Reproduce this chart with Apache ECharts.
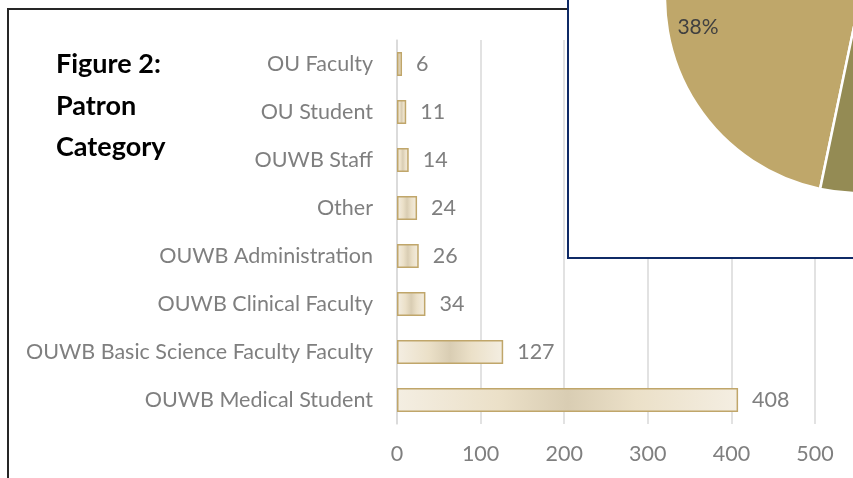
<!DOCTYPE html>
<html>
<head>
<meta charset="utf-8">
<script src="https://cdn.jsdelivr.net/npm/echarts@6/dist/echarts.min.js"></script>
<style>
    html, body { margin: 0; padding: 0; background: #fff; }
    #main { width: 853px; height: 478px; }
</style>
</head>
<body>
<div id="main"></div>
<script>
// bar chart data (top to bottom)
var categories = ['OU Faculty', 'OU Student', 'OUWB Staff', 'Other', 'OUWB Administration',
    'OUWB Clinical Faculty', 'OUWB Basic Science Faculty Faculty', 'OUWB Medical Student'];
var counts = [6, 11, 14, 24, 26, 34, 127, 408];
var xTicks = [0, 100, 200, 300, 400, 500];

// partly hidden pie in the corner (only the 38% slice is readable)
var pieValues = [38, 22, 16, 24];
var pieColors = ['#BFA76A', '#D9C89A', '#7E7650', '#948B54'];

var font = 'Lato, "Open Sans", sans-serif';
var grey = '#7f7f7f';

var barFill = {
    type: 'linear', x: 0, y: 0, x2: 1, y2: 0,
    colorStops: [
        { offset: 0, color: '#f4eee2' },
        { offset: 0.3, color: '#ebe0c8' },
        { offset: 0.5, color: '#d9cdb3' },
        { offset: 0.7, color: '#ebe0c8' },
        { offset: 1, color: '#f4eee2' }
    ]
};

var chart = echarts.init(document.getElementById('main'));
chart.setOption({
    animation: false,
    title: {
        text: 'Figure 2:\nPatron\nCategory',
        left: 56, top: 44, padding: 0,
        textStyle: { fontFamily: font, fontSize: 27, fontWeight: 'bold', color: '#000', lineHeight: 41.5 }
    },
    graphic: [
        { type: 'rect', z: -1, shape: { x: 8, y: 9, width: 900, height: 520 },
          style: { fill: 'none', stroke: '#262626', lineWidth: 2 } },
        { type: 'rect', z: 10, shape: { x: 568, y: -10, width: 400, height: 268 },
          style: { fill: '#fff', stroke: '#0f2a66', lineWidth: 2 } }
    ],
    grid: { left: 397, right: 38, top: 40, bottom: 54 },
    xAxis: {
        type: 'value', min: xTicks[0], max: xTicks[xTicks.length - 1], interval: 100,
        axisLine: { show: false },
        axisTick: { show: false },
        splitLine: { lineStyle: { color: '#d9d9d9', width: 1.5 } },
        axisLabel: { color: grey, fontSize: 21.5, fontFamily: font, margin: 19 }
    },
    yAxis: {
        type: 'category', data: categories, inverse: true,
        axisLine: { show: true, lineStyle: { color: '#d9d9d9', width: 1.5 } },
        axisTick: { show: false },
        axisLabel: { color: grey, fontSize: 21.5, fontFamily: font, margin: 24 }
    },
    series: [
        {
            type: 'bar', data: counts, barWidth: 24, z: 3,
            itemStyle: { color: barFill, borderColor: '#c0a66a', borderWidth: 1.5 },
            label: { show: true, position: 'right', distance: 14, color: grey, fontSize: 21.5, fontFamily: font }
        },
        {
            type: 'pie', z: 20, center: [860, -2], radius: 195,
            startAngle: 258.2, clockwise: true,
            data: pieValues.map(function (v, i) {
                return { value: v, itemStyle: { color: pieColors[i] } };
            }),
            itemStyle: { borderColor: '#fff', borderWidth: 2.5 },
            label: { show: false }, labelLine: { show: false },
            emphasis: { disabled: true }
        },
        {
            // transparent ring only used to place the slice labels near the edge
            type: 'pie', z: 21, center: [860, -2], radius: [140, 195],
            startAngle: 258.2, clockwise: true, silent: true,
            data: pieValues.map(function (v, i) {
                return i === 0 ? { value: v, label: { padding: [10, 0, 0, 12] } } : { value: v };
            }),
            itemStyle: { color: 'rgba(0,0,0,0)' },
            label: {
                show: true, position: 'inside', formatter: '{c}%',
                color: '#404040', fontSize: 21, fontFamily: font
            },
            labelLine: { show: false }
        }
    ]
});
</script>
</body>
</html>
